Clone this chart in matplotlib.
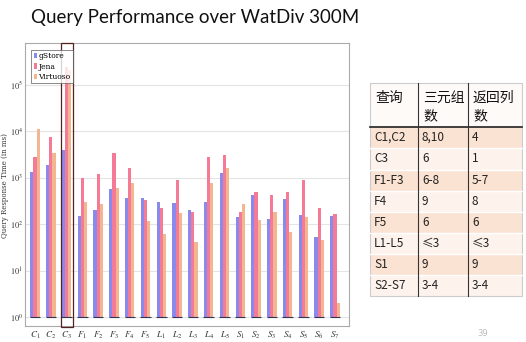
import matplotlib
matplotlib.use("Agg")
import matplotlib.pyplot as plt
from matplotlib.patches import Rectangle
import numpy as np

plt.rcParams['mathtext.fontset'] = 'stix'

categories = ["C1", "C2", "C3", "F1", "F2", "F3", "F4", "F5", "L1", "L2",
              "L3", "L4", "L5", "S1", "S2", "S3", "S4", "S5", "S6", "S7"]
gstore = [1330, 1900, 4000, 150, 200, 575, 370, 360, 300, 280,
          200, 300, 1260, 140, 425, 130, 350, 158, 53, 150]
jena = [2800, 7600, 240000, 1000, 1200, 3400, 1600, 330, 220, 900,
        185, 2800, 3100, 180, 490, 425, 490, 900, 225, 165]
virtuoso = [11000, 3400, 210000, 300, 270, 600, 770, 120, 63, 175,
            42, 770, 1600, 270, 123, 180, 68, 140, 46, 2]
series_names = ["gStore", "Jena", "Virtuoso"]
ytick_vals = [1, 10, 100, 1000, 10000, 100000]

table_header = ["查询", "三元组\n数", "返回列\n数"]
table_rows = [["C1,C2", "8,10", "4"],
              ["C3", "6", "1"],
              ["F1-F3", "6-8", "5-7"],
              ["F4", "9", "8"],
              ["F5", "6", "6"],
              ["L1-L5", "≤3", "≤3"],
              ["S1", "9", "9"],
              ["S2-S7", "3-4", "3-4"]]

W, H = 526, 342
fig = plt.figure(figsize=(W / 100, H / 100), dpi=100)
fig.patch.set_facecolor("white")

def fx(px):
    return px / W

def fy(py):
    return 1 - py / H

# Title
fig.text(fx(31), fy(18), "Query Performance over WatDiv 300M", fontsize=13.5,
         family=["Lato", "DejaVu Sans"], va="center", ha="left", color="#111111")

# Chart axes
ax_l, ax_r, ax_t, ax_b = 25, 349, 43, 326
ax = fig.add_axes([fx(ax_l), fy(ax_b), fx(ax_r - ax_l), (ax_b - ax_t) / H])
x = np.arange(len(categories))
colors = ["#8a8aec", "#f47a95", "#f2b690"]
w = 0.2
for k, (vals, c, name) in enumerate(zip([gstore, jena, virtuoso], colors, series_names)):
    ax.bar(x + (k - 1) * w, np.array(vals) - 1, width=w, bottom=1, color=c,
           edgecolor="none", label=name, zorder=3)
ax.hlines([1] * len(x), x - 0.33, x + 0.33, color="#333355", lw=0.8, zorder=4)
ax.set_yscale("log")
ax.set_ylim(10 ** -0.19, 10 ** 5.9)
px_per = (335 - 35) / 19
ax.set_xlim(-(35 - ax_l) / px_per, 19 + (ax_r - 335) / px_per)
ax.set_xticks(x)
ax.set_xticklabels([r"$%s_{%s}$" % (c[0], c[1:]) for c in categories], fontsize=6.5)
ax.set_yticks(ytick_vals)
ax.set_yticklabels([r"$10^{%d}$" % int(np.log10(v)) for v in ytick_vals], fontsize=6)
ax.yaxis.set_minor_locator(matplotlib.ticker.NullLocator())
ax.tick_params(axis="both", length=0, colors="#333333")
ax.tick_params(axis="y", pad=1.5)
ax.tick_params(axis="x", pad=2.5)
ax.yaxis.grid(True, color="#e4e4e4", lw=0.8, zorder=0)
for s in ax.spines.values():
    s.set_color("#aaaaaa")
    s.set_linewidth(0.8)
fig.text(fx(5), fy(186), "Query Response Time (in ms)", fontsize=5,
         family="DejaVu Serif", color="#333333", rotation=90, ha="center", va="center")
leg = ax.legend(loc="upper left", bbox_to_anchor=(0.02, 0.975),
                prop={"family": "DejaVu Serif", "size": 5.5}, frameon=True,
                fancybox=False, edgecolor="#555555", handlelength=0.4,
                handletextpad=0.2, borderpad=0.3, labelspacing=0.3, borderaxespad=0)
leg.get_frame().set_linewidth(0.6)
# highlight box around C3
ax.add_patch(Rectangle((2 - 0.38, 10 ** -0.22), 0.76, 10 ** 5.9, fill=False,
                       edgecolor="#552222", lw=0.9, zorder=5, clip_on=False))

# Table
col_x = [370, 418, 468, 522]
row_y = [83, 127, 148, 170, 191, 212, 233, 254, 275, 296]
peach = "#fbe3d3"
light = "#fdf3ec"
tf = ["Noto Sans CJK SC", "DejaVu Sans"]
fig.patches.append(Rectangle((fx(col_x[0]), fy(row_y[1])), fx(col_x[-1] - col_x[0]),
                             (row_y[1] - row_y[0]) / H, transform=fig.transFigure,
                             facecolor="#fefaf7", edgecolor="none"))
for r in range(len(table_rows)):
    y0, y1 = row_y[r + 1], row_y[r + 2]
    fig.patches.append(Rectangle((fx(col_x[0]), fy(y1)), fx(col_x[-1] - col_x[0]),
                                 (y1 - y0) / H, transform=fig.transFigure,
                                 facecolor=peach if r % 2 == 0 else light,
                                 edgecolor="none"))
for yy in row_y[2:-1]:
    fig.add_artist(plt.Line2D([fx(col_x[0]), fx(col_x[-1])], [fy(yy), fy(yy)],
                              color="#ffffff", lw=1.0))
fig.add_artist(plt.Line2D([fx(col_x[0]), fx(col_x[-1])], [fy(row_y[1]), fy(row_y[1])],
                          color="#222222", lw=1.2))
for xx in col_x[1:-1]:
    fig.add_artist(plt.Line2D([fx(xx), fx(xx)], [fy(row_y[0]), fy(row_y[-1])],
                              color="#333333", lw=0.8))
fig.patches.append(Rectangle((fx(col_x[0]), fy(row_y[-1])), fx(col_x[-1] - col_x[0]),
                             (row_y[-1] - row_y[0]) / H, transform=fig.transFigure,
                             facecolor="none", edgecolor="#cccccc", lw=0.8))
for j, htxt in enumerate(table_header):
    fig.text(fx(col_x[j] + 5), fy(91), htxt, fontsize=10, family=tf, va="top",
             ha="left", color="#111111", linespacing=1.35, weight="medium")
for r, row in enumerate(table_rows):
    yc = (row_y[r + 1] + row_y[r + 2]) / 2
    for j, t in enumerate(row):
        fig.text(fx(col_x[j] + 4), fy(yc), t, fontsize=8.5, family=tf, va="center",
                 ha="left", color="#222222")

fig.text(fx(483), fy(334), "39", fontsize=6, color="#bbbbbb", ha="center", va="center")

fig.savefig("out.png", dpi=100)
